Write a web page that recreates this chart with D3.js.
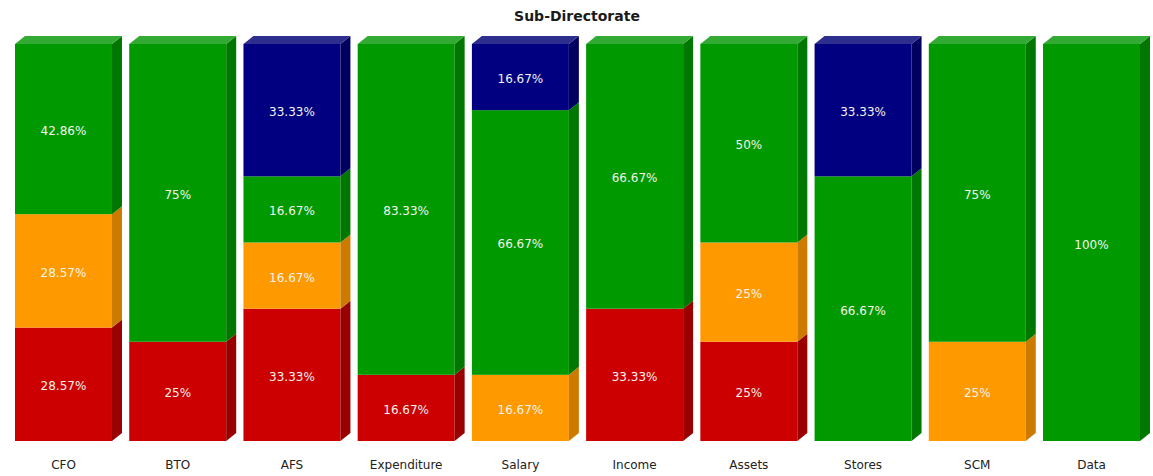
<!DOCTYPE html>
<html>
<head>
<meta charset="utf-8">
<script src="https://cdn.jsdelivr.net/npm/d3@7"></script>
<style>
  body { margin: 0; background: #fff; }
  svg { display: block; }
  .title { font: bold 14px "DejaVu Sans", Verdana, sans-serif; fill: #1a1a1a; }
  .x-axis text { font: 12px "DejaVu Sans", Verdana, sans-serif; fill: #222; }
  .seg-label { font: 12px "DejaVu Sans", Verdana, sans-serif; fill: #f4f4ec; }
</style>
</head>
<body>
<svg id="chart" width="1153" height="476"></svg>
<script>
const categories = ["CFO", "BTO", "AFS", "Expenditure", "Salary", "Income", "Assets", "Stores", "SCM", "Data"];
// stacked from the bottom: red, orange, green, blue
const redValues    = [28.57, 25, 33.33, 16.67, 0, 33.33, 25, 0, 0, 0];
const orangeValues = [28.57, 0, 16.67, 0, 16.67, 0, 25, 0, 25, 0];
const greenValues  = [42.86, 75, 16.67, 83.33, 66.67, 66.67, 50, 66.67, 75, 100];
const blueValues   = [0, 0, 33.33, 0, 16.67, 0, 0, 33.33, 0, 0];

const series = [
  { key: "red", values: redValues, front: "#cc0000", side: "#990000", top: "#dd3333" },
  { key: "orange", values: orangeValues, front: "#ff9900", side: "#cc7a00", top: "#ffad33" },
  { key: "green", values: greenValues, front: "#009900", side: "#007700", top: "#33aa33" },
  { key: "blue", values: blueValues, front: "#000080", side: "#000060", top: "#2e2e8e" }
];

const w = 1153;
const h = 476;
const depthX = 10;
const depthY = 8;

const svg = d3.select('#chart');

const xScale = d3.scaleBand()
  .domain(categories)
  .range([15, 1140])
  .paddingInner(0.151)
  .paddingOuter(0);

const yScale = d3.scaleLinear()
  .domain([0, 100])
  .range([441, 44]);

svg.append('text')
  .attr('class', 'title')
  .attr('x', 577)
  .attr('y', 21)
  .attr('text-anchor', 'middle')
  .text('Sub-Directorate');

const fmt = (v) => (v % 1 === 0 ? v : v.toFixed(2)) + '%';

// build stacked segments
const segments = [];
categories.forEach((cat, i) => {
  let base = 0;
  let last = null;
  series.forEach((s) => {
    const v = s.values[i];
    if (v > 0) {
      last = { cat, s, y0: base, y1: base + v, v };
      segments.push(last);
      base += v;
    }
  });
  if (last) last.isTop = true;
});

const bw = xScale.bandwidth();
const g = svg.append('g');

segments.forEach((d) => {
  const x0 = xScale(d.cat);
  const x1 = x0 + bw;
  const yt = yScale(d.y1);
  const yb = yScale(d.y0);

  g.append('rect')
    .attr('x', x0)
    .attr('y', yt)
    .attr('width', bw)
    .attr('height', yb - yt)
    .attr('fill', d.s.front);

  g.append('path')
    .attr('d', `M${x1},${yt}L${x1 + depthX},${yt - depthY}L${x1 + depthX},${yb - depthY}L${x1},${yb}Z`)
    .attr('fill', d.s.side);

  if (d.isTop) {
    g.append('path')
      .attr('d', `M${x0},${yt}L${x0 + depthX},${yt - depthY}L${x1 + depthX},${yt - depthY}L${x1},${yt}Z`)
      .attr('fill', d.s.top);
  }

  g.append('text')
    .attr('class', 'seg-label')
    .attr('x', x0 + bw / 2)
    .attr('y', (yt + yb) / 2)
    .attr('dy', '0.5em')
    .attr('text-anchor', 'middle')
    .text(fmt(d.v));
});

const xAxis = d3.axisBottom(xScale).tickSize(0).tickPadding(19);
svg.append('g')
  .attr('class', 'x-axis')
  .attr('transform', 'translate(0,441)')
  .call(xAxis)
  .call((sel) => sel.select('.domain').remove());
</script>
</body>
</html>
